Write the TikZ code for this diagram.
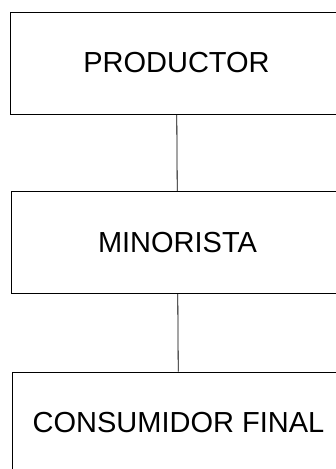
\documentclass[tikz,border=0pt]{standalone}
\usepackage{fontspec}
\setmainfont{Liberation Sans}
\tikzset{every picture/.style={line width=0.8pt}}
\tikzset{caja/.style={draw, minimum width=333pt, minimum height=102pt, inner sep=0pt, font=\fontsize{29}{35}\selectfont}}

\begin{document}
\begin{tikzpicture}[x=1pt,y=1pt,yscale=-1,xscale=1]
\clip (0,0) rectangle (336,469);
% Boxes
\node [caja] (prod) at (176.5,63) {PRODUCTOR};
\node [caja] (mino) at (177.5,242.5) {MINORISTA};
\node [caja] (cons) at (178.5,423) {CONSUMIDOR FINAL};
% Lines
\draw (prod) -- (mino);
\draw (mino) -- (cons);
\end{tikzpicture}
\end{document}
